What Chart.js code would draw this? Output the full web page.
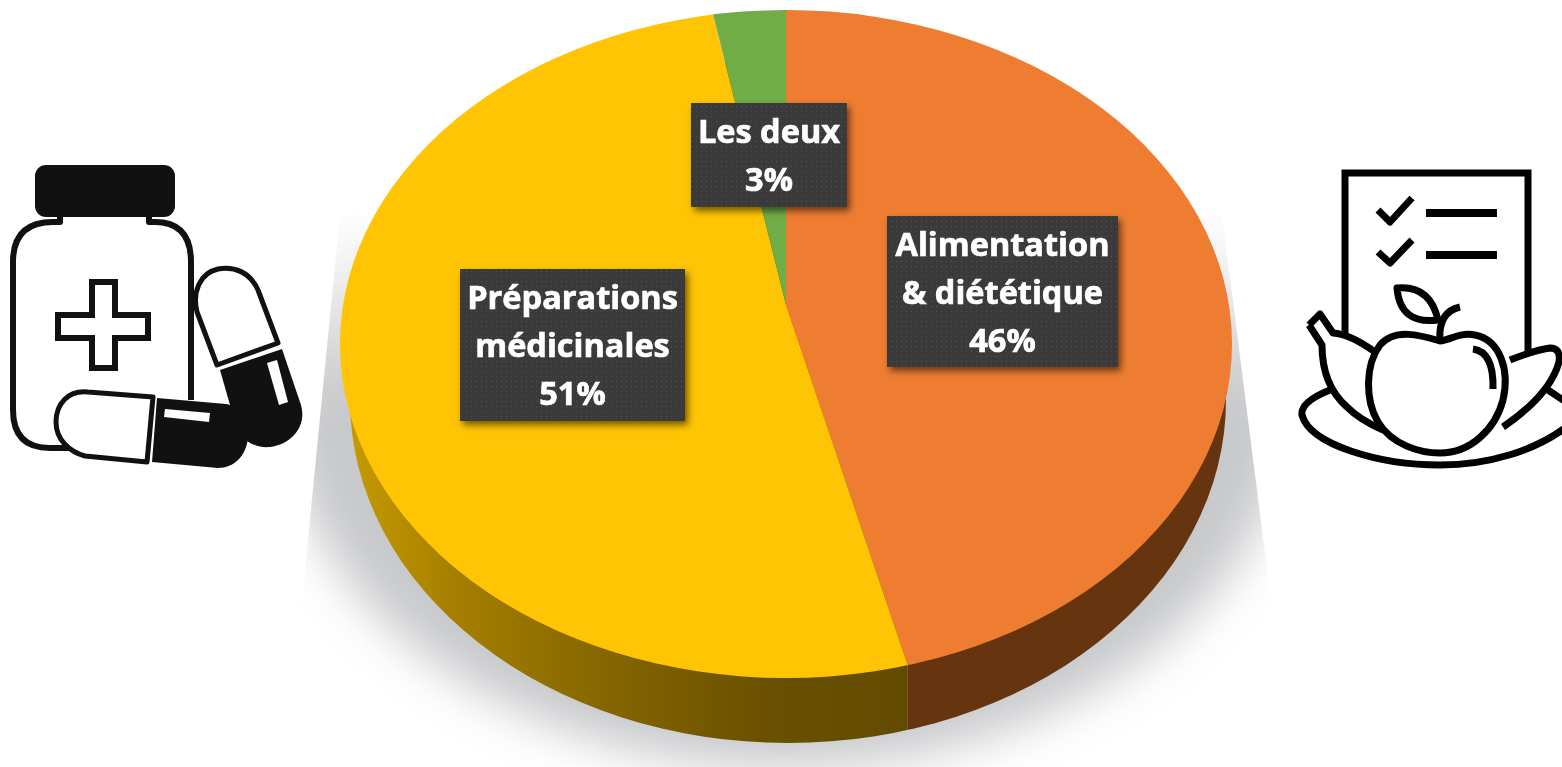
<!DOCTYPE html>
<html lang="fr">
<head>
<meta charset="utf-8">
<title>Répartition</title>
<script src="https://cdn.jsdelivr.net/npm/chart.js@4/dist/chart.umd.min.js"></script>
<style>
    html, body { margin: 0; padding: 0; background: #fff; overflow: hidden; }
    #wrap { position: relative; width: 1562px; height: 767px; }
    #pieChart { position: absolute; left: 0; top: 0; }
    svg.icon { position: absolute; left: 0; top: 0; }
</style>
</head>
<body>
<div id="wrap">
    <canvas id="pieChart" width="1562" height="767"></canvas>
    <svg class="icon" width="1562" height="767" viewBox="0 0 1562 767" stroke-linejoin="round">
        <!-- pill bottle -->
        <rect x="35" y="165" width="140" height="52" rx="11" fill="#111"/>
        <g fill="none" stroke="#111" stroke-width="6">
            <path d="M60 215 V222 H53 Q13 222 13 262 V410 Q13 448 50 448 H72"/>
            <path d="M149 215 V222 H155 Q191 222 191 262 V400"/>
            <path d="M92 282 H115 V315 H148 V338 H115 V368 H92 V338 H58 V315 H92 Z" stroke-linejoin="miter"/>
        </g>
        <path d="M217 365 L278 343 L258 290 C250 272 234 266 218 269 C200 273 192 292 197 312 Z" fill="#fff" stroke="#111" stroke-width="5"/>
        <path d="M220 370 L282 349 L301 405 C307 426 292 444 270 447 C258 448 250 444 240 436 L230 405 Z" fill="#111"/>
        <path d="M267 363 L277 360 L288 402 L279 405 Z" fill="#fff"/>
        <path d="M153 397 L147 462 L85 456 C70 452 56 440 56 422 C56 404 68 390 88 392 Z" fill="#fff" stroke="#111" stroke-width="5"/>
        <path d="M157 398 L226 404 C240 406 249 422 248 438 C246 456 234 468 218 468 L152 462 Z" fill="#111"/>
        <path d="M165 409 L210 413 L209 422 L164 417 Z" fill="#fff"/>
        <!-- checklist and fruit -->
        <g fill="none" stroke="#000" stroke-width="7">
            <path d="M1345 335 V173 H1528 V352" stroke-linejoin="miter"/>
            <path d="M1378 210 L1390 222 L1412 198"/>
            <path d="M1378 252 L1390 263 L1412 240"/>
            <path d="M1426 213 H1497 M1426 255 H1497" stroke-width="8"/>
            <path d="M1397 288 Q1430 285 1438 320 Q1400 325 1397 288 Z"/>
            <path d="M1440 340 Q1438 312 1460 307"/>
            <path d="M1330 390 Q1300 402 1302 415 C1310 445 1380 465 1440 465 C1490 465 1535 450 1565 428"/>
            <path d="M1548 390 L1566 402"/>
            <path d="M1309 325 L1320 314 L1333 333 Q1350 334 1375 352"/>
            <path d="M1309 325 L1322 345 Q1322 385 1347 407 Q1360 420 1383 430"/>
            <path d="M1510 360 Q1535 350 1550 348 Q1561 348 1559 362 Q1550 395 1503 427"/>
            <path d="M1440 341 C1420 335 1395 328 1380 345 C1365 365 1365 400 1378 422 C1392 445 1420 453 1440 453 C1470 453 1495 430 1503 400 C1510 370 1500 340 1475 335 C1460 332 1450 340 1440 341 Z" fill="#fff"/>
            <path d="M1473 349 Q1494 352 1493 389"/>
        </g>
    </svg>
</div>
<script>
const categories = ["Alimentation\n& diététique", "Préparations\nmédicinales", "Les deux"];
const shares = [46, 51, 3];
const sliceColors = ["#EF7D31", "#FFC504", "#70AD47"];

// flattening of the disc and outline of its top face
const tilt = 0.76;
const topFace = { x: 786, y: 344, rx: 446, ry: 334 };
const bottomFace = { x: 788, y: 400, rx: 438, ry: 343 };

// text boxes, same order as categories
const labelBoxes = [
    { x: 887, y: 216, w: 231, h: 151 },
    { x: 460, y: 269, w: 225, h: 152 },
    { x: 691, y: 103, w: 156, h: 104 }
];

function dotPattern(ctx) {
    const c = document.createElement("canvas");
    c.width = 5;
    c.height = 5;
    const p = c.getContext("2d");
    p.fillStyle = "#3a3a3a";
    p.fillRect(0, 0, 5, 5);
    p.fillStyle = "#505256";
    p.fillRect(1, 1, 1, 1);
    return ctx.createPattern(c, "repeat");
}

function ellipsePath(ctx, e) {
    ctx.beginPath();
    ctx.ellipse(e.x, e.y, e.rx, e.ry, 0, 0, Math.PI * 2);
}

// where a slice edge meets the rim of the top face
function rimX(arc, angle) {
    const dx = Math.cos(angle);
    const dy = Math.sin(angle) * tilt;
    const ox = (arc.x - topFace.x) / topFace.rx;
    const oy = (arc.y - topFace.y) / topFace.ry;
    const ux = dx / topFace.rx;
    const uy = dy / topFace.ry;
    const a = ux * ux + uy * uy;
    const b = 2 * (ox * ux + oy * uy);
    const c = ox * ox + oy * oy - 1;
    const t = (-b + Math.sqrt(b * b - 4 * a * c)) / (2 * a);
    return arc.x + dx * t;
}

const discPlugin = {
    id: "disc",
    beforeDatasetsDraw(chart) {
        const ctx = chart.ctx;
        const arcs = chart.getDatasetMeta(0).data;
        const splitX = rimX(arcs[0], arcs[0].endAngle);

        // soft shadow behind the disc
        ctx.save();
        ctx.beginPath();
        ctx.moveTo(340, 215);
        ctx.lineTo(1222, 215);
        ctx.lineTo(1271, 600);
        ctx.lineTo(1562, 600);
        ctx.lineTo(1562, 767);
        ctx.lineTo(0, 767);
        ctx.lineTo(0, 600);
        ctx.lineTo(302, 600);
        ctx.closePath();
        ctx.clip();
        const shade = ctx.createLinearGradient(0, 215, 0, 400);
        shade.addColorStop(0, "rgba(200,201,203,0)");
        shade.addColorStop(1, "rgba(200,201,203,1)");
        ctx.filter = "blur(24px)";
        ctx.fillStyle = shade;
        ctx.beginPath();
        ctx.ellipse(786, 395, 505, 372, 0, 0, Math.PI * 2);
        ctx.fill();
        ctx.restore();

        // rim of the disc
        ctx.save();
        ellipsePath(ctx, bottomFace);
        ctx.clip();
        const rim = ctx.createLinearGradient(340, 0, splitX, 0);
        rim.addColorStop(0, "#c89d00");
        rim.addColorStop(0.2, "#a67f00");
        rim.addColorStop(0.45, "#876700");
        rim.addColorStop(0.75, "#6a5000");
        rim.addColorStop(1, "#624b00");
        ctx.fillStyle = rim;
        ctx.fillRect(0, 0, splitX, 767);
        ctx.fillStyle = "#66340f";
        ctx.fillRect(splitX, 0, 1562 - splitX, 767);
        ctx.restore();

        // top face: the library's arcs, flattened and cut to the outline
        ctx.save();
        ellipsePath(ctx, topFace);
        ctx.clip();
        ctx.translate(0, arcs[0].y);
        ctx.scale(1, tilt);
        ctx.translate(0, -arcs[0].y);
    },
    afterDatasetsDraw(chart) {
        const ctx = chart.ctx;
        ctx.restore();

        const pattern = dotPattern(ctx);
        categories.forEach(function (name, i) {
            const box = labelBoxes[i];
            ctx.save();
            ctx.shadowColor = "rgba(0,0,0,0.55)";
            ctx.shadowBlur = 7;
            ctx.shadowOffsetX = 3;
            ctx.shadowOffsetY = 4;
            ctx.fillStyle = pattern;
            ctx.fillRect(box.x, box.y, box.w, box.h);
            ctx.restore();

            const lines = name.split("\n").concat(shares[i] + "%");
            const lineHeight = 48;
            const firstY = box.y + box.h / 2 + 3 - (lines.length - 1) * lineHeight / 2;
            ctx.fillStyle = "#fff";
            ctx.strokeStyle = "#fff";
            ctx.lineWidth = 0.7;
            ctx.font = "bold 32.5px 'Open Sans'";
            ctx.textAlign = "center";
            ctx.textBaseline = "middle";
            lines.forEach(function (line, n) {
                ctx.fillText(line, box.x + box.w / 2, firstY + n * lineHeight);
                ctx.strokeText(line, box.x + box.w / 2, firstY + n * lineHeight);
            });
        });
    }
};

new Chart(document.getElementById("pieChart"), {
    type: "pie",
    data: {
        labels: categories,
        datasets: [{
            data: shares,
            backgroundColor: sliceColors,
            borderWidth: 0,
            clip: false
        }]
    },
    options: {
        responsive: false,
        animation: false,
        radius: 520,
        layout: { padding: { left: 10, right: 0, top: 0, bottom: 157 } },
        plugins: {
            legend: { display: false },
            tooltip: { enabled: false }
        }
    },
    plugins: [discPlugin]
});
</script>
</body>
</html>
